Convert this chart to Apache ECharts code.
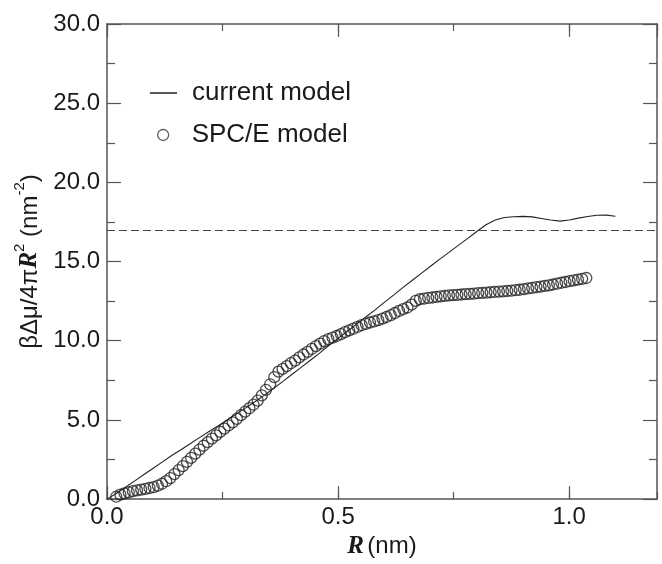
<!DOCTYPE html>
<html>
<head>
<meta charset="utf-8">
<script src="https://cdn.jsdelivr.net/npm/echarts@6/dist/echarts.min.js"></script>
<style>html,body{margin:0;padding:0;background:#fff;}#c{width:662px;height:564px;}</style>
</head>
<body>
<div id="c"></div>
<script>
// SPC/E model (circles)
const spcR = [0.020,0.029,0.038,0.047,0.056,0.065,0.074,0.083,0.092,0.101,0.110,0.119,0.128,0.137,0.146,0.155,0.164,0.173,0.182,0.191,0.200,0.209,0.218,0.227,0.236,0.245,0.254,0.263,0.272,0.281,0.290,0.299,0.308,0.317,0.326,0.335,0.344,0.353,0.362,0.371,0.380,0.389,0.398,0.407,0.416,0.425,0.434,0.443,0.452,0.461,0.470,0.479,0.488,0.497,0.506,0.515,0.524,0.533,0.542,0.551,0.560,0.569,0.578,0.587,0.596,0.605,0.614,0.623,0.632,0.641,0.650,0.659,0.668,0.677,0.686,0.695,0.704,0.713,0.722,0.731,0.740,0.749,0.758,0.767,0.776,0.785,0.794,0.803,0.812,0.821,0.830,0.839,0.848,0.857,0.866,0.875,0.884,0.893,0.902,0.911,0.920,0.929,0.938,0.947,0.956,0.965,0.974,0.983,0.992,1.001,1.010,1.019,1.028,1.037];
const spcV = [0.15,0.28,0.36,0.43,0.50,0.55,0.60,0.65,0.70,0.76,0.85,0.97,1.13,1.33,1.58,1.83,2.08,2.35,2.60,2.87,3.13,3.37,3.60,3.82,4.03,4.25,4.45,4.65,4.85,5.07,5.30,5.52,5.74,5.96,6.22,6.55,6.90,7.25,7.70,8.05,8.22,8.40,8.58,8.75,8.95,9.13,9.30,9.48,9.66,9.82,9.98,10.10,10.20,10.30,10.42,10.54,10.65,10.76,10.87,10.98,11.07,11.15,11.22,11.30,11.40,11.50,11.62,11.75,11.88,12.00,12.10,12.28,12.52,12.62,12.66,12.70,12.73,12.77,12.80,12.83,12.86,12.88,12.90,12.92,12.94,12.96,12.98,13.00,13.02,13.04,13.06,13.08,13.10,13.12,13.14,13.16,13.19,13.22,13.26,13.30,13.34,13.38,13.42,13.46,13.50,13.55,13.60,13.66,13.71,13.76,13.81,13.86,13.91,13.96];
// current model (line)
const curR = [0.00,0.02,0.04,0.06,0.08,0.10,0.12,0.14,0.16,0.18,0.20,0.22,0.24,0.26,0.28,0.30,0.32,0.34,0.36,0.38,0.40,0.42,0.44,0.46,0.48,0.50,0.52,0.54,0.56,0.58,0.60,0.62,0.64,0.66,0.68,0.70,0.72,0.74,0.76,0.78,0.80,0.82,0.84,0.86,0.88,0.90,0.92,0.94,0.96,0.98,1.00,1.02,1.04,1.06,1.08,1.10];
const curV = [0.00,0.35,0.75,1.15,1.55,1.95,2.35,2.75,3.12,3.50,3.88,4.25,4.62,5.00,5.38,5.76,6.15,6.55,6.98,7.42,7.87,8.32,8.77,9.22,9.70,10.15,10.60,11.05,11.50,11.95,12.42,12.88,13.35,13.80,14.25,14.70,15.15,15.58,16.02,16.45,16.90,17.32,17.62,17.78,17.83,17.85,17.82,17.72,17.62,17.55,17.62,17.74,17.84,17.92,17.93,17.86];
const refLevel = 17.0;
const xTickLabels = ['0.0','0.5','1.0'];
const yTickLabels = ['0.0','5.0','10.0','15.0','20.0','25.0','30.0'];

const FONT = 'Liberation Sans';
const AX = '#555';
const chart = echarts.init(document.getElementById('c'));
function xAx(pos, interval, len, showLine, labels) {
  return {
    type:'value', position:pos, min:0, max:1.19, interval:interval,
    axisLine:{show:showLine, onZero:false, lineStyle:{color:AX, width:1.5}},
    axisTick:{show:true, inside:true, length:len, lineStyle:{color:AX, width:1.2}},
    splitLine:{show:false},
    axisLabel:{show:labels, margin:6, fontFamily:FONT, fontSize:24, color:'#1a1a1a',
      showMaxLabel:false,
      formatter:function(v){ const i = Math.round(v/0.5); return Math.abs(v - i*0.5) < 1e-6 ? xTickLabels[i] : ''; }}
  };
}
const xAxes = [xAx('bottom',0.5,13,true,true), xAx('bottom',0.25,7,false,false), xAx('top',0.5,13,true,false), xAx('top',0.25,7,false,false)];
xAxes[0].name = '{ri|R} {n|(nm)}';
xAxes[0].nameLocation = 'middle';
xAxes[0].nameGap = 34;
xAxes[0].nameTextStyle = {rich:{ri:{fontFamily:'Liberation Serif', fontStyle:'italic', fontWeight:'bold', fontSize:25, color:'#1a1a1a'}, n:{fontFamily:FONT, fontSize:24, color:'#1a1a1a'}}};

function yAx(pos, labels) {
  return {
    type:'value', position:pos, min:0, max:30, interval:5,
    axisLine:{show:true, onZero:false, lineStyle:{color:AX, width:1.5}},
    axisTick:{show:true, inside:true, length:14, lineStyle:{color:AX, width:1.2}},
    minorTick:{show:true, splitNumber:2, length:8, lineStyle:{color:AX, width:1.2}},
    splitLine:{show:false}, minorSplitLine:{show:false},
    axisLabel:{show:labels, margin:7, fontFamily:FONT, fontSize:24, color:'#1a1a1a',
      formatter:function(v){ return yTickLabels[Math.round(v/5)]; }}
  };
}
const yAxes = [yAx('left',true), yAx('right',false)];
yAxes[0].name = '{n|βΔμ/4π}{ri|R}{s|2}{n| (nm}{s|-2}{n|)}';
yAxes[0].nameLocation = 'middle';
yAxes[0].nameRotate = 90;
yAxes[0].nameGap = 64;
yAxes[0].nameTextStyle = {rich:{
  n:{fontFamily:FONT, fontSize:24, color:'#1a1a1a', lineHeight:30, verticalAlign:'bottom'},
  ri:{fontFamily:'Liberation Serif', fontStyle:'italic', fontWeight:'bold', fontSize:25, color:'#1a1a1a', lineHeight:30, verticalAlign:'bottom'},
  s:{fontFamily:FONT, fontSize:15, color:'#1a1a1a', lineHeight:30, verticalAlign:'top'}
}};

chart.setOption({
  animation:false,
  backgroundColor:'#fff',
  grid:{left:107, right:5, top:24, bottom:56, containLabel:false},
  xAxis: xAxes,
  yAxis: yAxes,
  legend:[
    {left:145, top:75, itemWidth:27, itemHeight:1.5, itemGap:10,
     textStyle:{fontFamily:FONT, fontSize:26, color:'#1a1a1a', padding:[0,0,0,10]},
     data:[{name:'current model', icon:'rect', itemStyle:{color:'#222'}}]},
    {left:152, top:117, itemWidth:11, itemHeight:11,
     textStyle:{fontFamily:FONT, fontSize:26, color:'#1a1a1a', padding:[0,0,0,18]},
     data:[{name:'SPC/E model', icon:'circle', itemStyle:{color:'rgba(0,0,0,0)', borderColor:'#333', borderWidth:1.3}}]}
  ],
  series:[
    {name:'current model', type:'line', xAxisIndex:0, yAxisIndex:0, showSymbol:false, symbol:'none',
     data: curR.map((r,i)=>[r, curV[i]]), lineStyle:{color:'#222', width:1.1}, itemStyle:{color:'#222'},
     markLine:{silent:true, symbol:'none', label:{show:false},
       lineStyle:{color:'#444', width:1.2, type:[8,4]},
       data:[{yAxis:refLevel}]}},
    {name:'SPC/E model', type:'scatter', xAxisIndex:0, yAxisIndex:0, symbol:'circle', symbolSize:11,
     data: spcR.map((r,i)=>[r, spcV[i]]),
     itemStyle:{color:'rgba(0,0,0,0)', borderColor:'#222', borderWidth:1.3}}
  ]
});
</script>
</body>
</html>
